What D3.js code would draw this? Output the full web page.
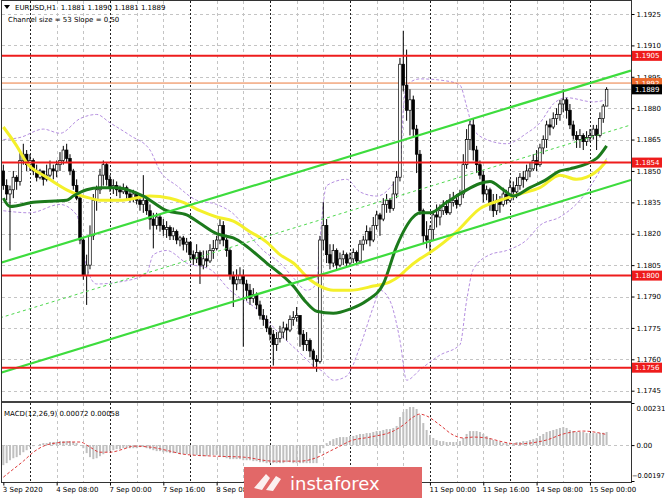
<!DOCTYPE html>
<html><head><meta charset="utf-8">
<script src="https://cdn.jsdelivr.net/npm/d3@7"></script>
<style>
body{margin:0;background:#fff}
svg{display:block}
text{font-family:"DejaVu Sans",Verdana,sans-serif}
</style></head>
<body><svg id="c" width="665" height="499"></svg>
<script>
// ---------- DATA ----------
const symbolTitle = "EURUSD,H1  1.1881 1.1890 1.1881 1.1889";
const channelTitle = "Channel size = 53 Slope = 0,50";
const macdTitle = "MACD(12,26,9) 0.00072 0.00058";
const firstOpen = 1.1850;
const closes = [
1.1843,1.1839,1.1841,1.1847,1.1845,1.1855,1.1858,1.1853,1.1855,1.1850,
1.1847,1.1850,1.1846,1.1848,1.1851,1.1850,1.1853,1.1855,1.1860,1.1856,
1.1850,1.1843,1.1837,1.1817,1.1800,1.1805,1.1819,1.1836,1.1841,1.1848,
1.1853,1.1846,1.1842,1.1843,1.1841,1.1840,1.1842,1.1839,1.1837,1.1839,
1.1836,1.1834,1.1836,1.1831,1.1827,1.1824,1.1828,1.1824,1.1822,1.1823,
1.1819,1.1821,1.1817,1.1818,1.1815,1.1816,1.1810,1.1808,1.1811,1.1805,
1.1808,1.1807,1.1812,1.1813,1.1817,1.1824,1.1817,1.1812,1.1800,1.1796,
1.1798,1.1800,1.1796,1.1793,1.1789,1.1791,1.1786,1.1781,1.1779,1.1775,
1.1772,1.1767,1.1770,1.1773,1.1775,1.1774,1.1779,1.1780,1.1781,1.1772,
1.1767,1.1769,1.1764,1.1760,1.1759,1.1817,1.1824,1.1810,1.1806,1.1812,
1.1805,1.1808,1.1810,1.1806,1.1808,1.1811,1.1807,1.1815,1.1817,1.1821,
1.1817,1.1824,1.1829,1.1827,1.1834,1.1836,1.1832,1.1839,1.1847,1.1901,
1.1891,1.1879,1.1884,1.1870,1.1858,1.1831,1.1819,1.1817,1.1822,1.1829,
1.1828,1.1831,1.1833,1.1830,1.1835,1.1836,1.1834,1.1839,1.1853,1.1865,
1.1872,1.1860,1.1853,1.1848,1.1839,1.1841,1.1834,1.1831,1.1836,1.1834,
1.1839,1.1836,1.1842,1.1840,1.1843,1.1847,1.1846,1.1850,1.1851,1.1855,
1.1853,1.1861,1.1865,1.1872,1.1871,1.1875,1.1877,1.1882,1.1884,1.1879,
1.1872,1.1867,1.1865,1.1867,1.1864,1.1866,1.1867,1.1870,1.1867,1.1875,
1.1881,1.1889];
const highs = [
1.1853,1.1846,1.1843,1.1850,1.1848,1.1859,1.1863,1.1860,1.1858,1.1856,
1.1853,1.1851,1.1850,1.1853,1.1855,1.1853,1.1855,1.1859,1.1862,1.1863,
1.1858,1.1851,1.1846,1.1839,1.1818,1.1810,1.1824,1.1839,1.1843,1.1851,
1.1855,1.1854,1.1848,1.1846,1.1845,1.1843,1.1844,1.1843,1.1841,1.1841,
1.1840,1.1839,1.1848,1.1837,1.1834,1.1830,1.1830,1.1829,1.1827,1.1826,
1.1824,1.1823,1.1822,1.1819,1.1819,1.1818,1.1816,1.1812,1.1815,1.1812,
1.1812,1.1812,1.1815,1.1817,1.1819,1.1828,1.1826,1.1818,1.1813,1.1802,
1.1803,1.1804,1.1803,1.1798,1.1796,1.1794,1.1792,1.1788,1.1784,1.1781,
1.1776,1.1774,1.1773,1.1776,1.1778,1.1777,1.1781,1.1783,1.1785,1.1781,
1.1774,1.1773,1.1770,1.1765,1.1762,1.1819,1.1835,1.1827,1.1815,1.1815,
1.1813,1.1811,1.1812,1.1811,1.1811,1.1813,1.1812,1.1817,1.1819,1.1824,
1.1823,1.1828,1.1831,1.1830,1.1837,1.1839,1.1837,1.1845,1.1850,1.1904,
1.1917,1.1908,1.1889,1.1886,1.1872,1.1860,1.1832,1.1826,1.1824,1.1831,
1.1834,1.1834,1.1836,1.1836,1.1839,1.1840,1.1839,1.1841,1.1858,1.1870,
1.1874,1.1875,1.1862,1.1855,1.1850,1.1843,1.1842,1.1839,1.1839,1.1838,
1.1842,1.1841,1.1846,1.1845,1.1847,1.1849,1.1850,1.1853,1.1854,1.1858,
1.1860,1.1863,1.1867,1.1874,1.1875,1.1878,1.1880,1.1884,1.1889,1.1885,
1.1882,1.1874,1.1869,1.1870,1.1868,1.1869,1.1870,1.1872,1.1872,1.1878,
1.1882,1.1890];
const lows = [
1.1841,1.1836,1.1812,1.1837,1.1841,1.1843,1.1853,1.1850,1.1850,1.1848,
1.1845,1.1846,1.1843,1.1845,1.1847,1.1846,1.1847,1.1850,1.1853,1.1854,
1.1848,1.1841,1.1836,1.1815,1.1798,1.1786,1.1803,1.1817,1.1831,1.1839,
1.1843,1.1843,1.1840,1.1839,1.1838,1.1837,1.1839,1.1836,1.1835,1.1835,
1.1834,1.1831,1.1830,1.1829,1.1822,1.1813,1.1822,1.1821,1.1819,1.1818,
1.1817,1.1817,1.1815,1.1814,1.1812,1.1811,1.1807,1.1805,1.1806,1.1796,
1.1803,1.1804,1.1806,1.1808,1.1812,1.1815,1.1814,1.1809,1.1798,1.1785,
1.1793,1.1796,1.1766,1.1788,1.1786,1.1787,1.1784,1.1779,1.1776,1.1773,
1.1769,1.1757,1.1764,1.1768,1.1770,1.1769,1.1773,1.1776,1.1778,1.1766,
1.1764,1.1764,1.1761,1.1756,1.1754,1.1758,1.1812,1.1806,1.1803,1.1804,
1.1803,1.1804,1.1805,1.1804,1.1805,1.1806,1.1805,1.1806,1.1812,1.1815,
1.1814,1.1816,1.1822,1.1819,1.1826,1.1830,1.1830,1.1831,1.1837,1.1845,
1.1888,1.1874,1.1867,1.1866,1.1849,1.1829,1.1815,1.1813,1.1810,1.1817,
1.1823,1.1824,1.1829,1.1829,1.1829,1.1833,1.1832,1.1833,1.1837,1.1851,
1.1860,1.1855,1.1849,1.1846,1.1835,1.1836,1.1831,1.1828,1.1829,1.1830,
1.1833,1.1834,1.1835,1.1836,1.1837,1.1841,1.1842,1.1845,1.1847,1.1850,
1.1850,1.1852,1.1858,1.1861,1.1867,1.1870,1.1872,1.1874,1.1878,1.1875,
1.1870,1.1865,1.1861,1.1861,1.1860,1.1862,1.1864,1.1865,1.1860,1.1866,
1.1873,1.1881];
// moving averages: [bar, price]
const maYellow = [[0,1.1871],[4,1.1862],[7,1.1854],[13,1.1847],[19,1.1841],[26,1.1837],[29,1.1836],[35,1.1836],[44,1.1838],[50,1.1837],[54,1.1835],[59,1.1831],[64,1.1828],[69,1.1826],[74,1.1821],[79,1.1816],[83,1.1810],[87,1.1806],[92,1.1798],[95,1.1795],[99,1.1793],[104,1.1793],[111,1.1795],[116,1.1797],[119,1.1800],[121,1.1803],[125,1.1808],[128,1.1811],[136,1.1821],[143,1.1832],[149,1.1836],[155,1.1839],[161,1.1842],[167,1.1848],[172,1.1846],[175,1.1847],[180,1.1853],[181,1.1855]];
const maGreen = [[0,1.1837],[2,1.1833],[9,1.1835],[19,1.1836],[21,1.1838],[25,1.1841],[29,1.1842],[34,1.1842],[42,1.1838],[49,1.1831],[55,1.1829],[59,1.1825],[64,1.1820],[69,1.1818],[79,1.1806],[87,1.1795],[91,1.1787],[94,1.1783],[99,1.1782],[104,1.1784],[109,1.1788],[114,1.1796],[118,1.1814],[123,1.1828],[125,1.1830],[128,1.1830],[133,1.1835],[138,1.1840],[143,1.1844],[146,1.1845],[150,1.1841],[153,1.1838],[158,1.1842],[163,1.1846],[167,1.1850],[170,1.1851],[178,1.1856],[181,1.1862]];
const bandUpper = [[0,1.1865],[5,1.1866],[12,1.1870],[17,1.1868],[23,1.1875],[28,1.1877],[32,1.1873],[38,1.1867],[44,1.1860],[47,1.1850],[52,1.1843],[58,1.1836],[64,1.1834],[70,1.1828],[74,1.1819],[78,1.1812],[83,1.1806],[87,1.1799],[91,1.1793],[94,1.1796],[95,1.1817],[97,1.1843],[103,1.1846],[107,1.1840],[112,1.1838],[116,1.1842],[119,1.1850],[120,1.1879],[121,1.1891],[125,1.1894],[133,1.1893],[137,1.1891],[139,1.1881],[141,1.1870],[145,1.1865],[151,1.1863],[157,1.1868],[161,1.1873],[165,1.1882],[169,1.1885],[177,1.1883],[181,1.1884]];
const bandLower = [[0,1.1831],[8,1.1830],[17,1.1834],[22,1.1829],[25,1.1804],[28,1.1796],[35,1.1797],[43,1.1801],[45,1.1810],[49,1.1812],[55,1.1806],[62,1.1803],[68,1.1793],[76,1.1784],[83,1.1772],[89,1.1763],[93,1.1757],[96,1.1754],[99,1.1750],[103,1.1752],[107,1.1766],[111,1.1785],[113,1.1793],[116,1.1788],[119,1.1769],[121,1.1750],[125,1.1755],[131,1.1762],[137,1.1767],[139,1.1788],[141,1.1803],[146,1.1810],[151,1.1812],[157,1.1817],[161,1.1824],[167,1.1828],[173,1.1836],[180,1.1853],[181,1.1856]];
// regression channel endpoints [bar, price]
const channelUpper = [[-1,1.1806],[188.3,1.1898]];
const channelMiddle = [[-1,1.17798],[188.3,1.18720]];
const channelLower = [[-1,1.17535],[188.3,1.18457]];
const levels = [1.1905,1.1854,1.1800,1.1756];
const askLine = 1.1892, bidLine = 1.1889;
const priceTicks = [1.1925,1.1910,1.1895,1.1880,1.1865,1.1850,1.1835,1.1820,1.1805,1.1790,1.1775,1.1760,1.1745];
// labels hidden under the watermark (9 Sep 00:00, 9 Sep 16:00, 10 Sep 08:00) are not shown
const timeLabelBars = [0,16,32,48,64,128,144,160,176];
const timeLabels = ["3 Sep 2020","4 Sep 08:00","7 Sep 00:00","7 Sep 16:00","8 Sep 08:00","11 Sep 00:00","11 Sep 16:00","14 Sep 08:00","15 Sep 00:00"];
const macdHist = [
-0.00110,-0.00099,-0.00083,-0.00072,-0.00066,-0.00055,-0.00039,-0.00028,-0.00011,-0.00006,
0.00000,0.00006,0.00011,0.00011,0.00017,0.00017,0.00017,0.00022,0.00022,0.00022,
0.00022,0.00017,0.00011,0.00000,-0.00017,-0.00044,-0.00066,-0.00077,-0.00072,-0.00061,
-0.00050,-0.00039,-0.00033,-0.00028,-0.00022,-0.00022,-0.00017,-0.00017,-0.00017,-0.00017,
-0.00017,-0.00011,-0.00011,-0.00017,-0.00022,-0.00028,-0.00033,-0.00033,-0.00039,-0.00039,
-0.00044,-0.00044,-0.00044,-0.00050,-0.00050,-0.00050,-0.00050,-0.00055,-0.00055,-0.00061,
-0.00061,-0.00061,-0.00055,-0.00055,-0.00055,-0.00061,-0.00066,-0.00072,-0.00077,-0.00077,
-0.00077,-0.00077,-0.00083,-0.00083,-0.00083,-0.00088,-0.00088,-0.00094,-0.00094,-0.00099,
-0.00099,-0.00099,-0.00099,-0.00099,-0.00099,-0.00094,-0.00094,-0.00099,-0.00099,-0.00099,
-0.00099,-0.00099,-0.00099,-0.00099,-0.00099,-0.00044,-0.00017,0.00011,0.00022,0.00033,
0.00039,0.00044,0.00044,0.00044,0.00050,0.00050,0.00055,0.00061,0.00061,0.00066,
0.00066,0.00072,0.00077,0.00077,0.00083,0.00088,0.00088,0.00094,0.00105,0.00154,
0.00182,0.00198,0.00209,0.00209,0.00198,0.00165,0.00121,0.00083,0.00055,0.00039,
0.00028,0.00022,0.00022,0.00017,0.00017,0.00017,0.00017,0.00022,0.00039,0.00061,
0.00077,0.00077,0.00077,0.00072,0.00061,0.00050,0.00039,0.00028,0.00022,0.00017,
0.00011,0.00011,0.00011,0.00011,0.00017,0.00017,0.00022,0.00022,0.00028,0.00033,
0.00039,0.00050,0.00061,0.00072,0.00077,0.00083,0.00088,0.00094,0.00099,0.00094,
0.00083,0.00077,0.00072,0.00072,0.00072,0.00066,0.00066,0.00066,0.00066,0.00066,
0.00068,0.00072];
const macdSignal = [[0,-0.00176],[3,-0.00132],[6,-0.00088],[9,-0.00039],[14,0.00006],[20,0.00017],[23,0.00017],[26,-0.00011],[29,-0.00039],[32,-0.00039],[36,-0.00022],[39,-0.00006],[44,-0.00011],[50,-0.00033],[54,-0.00050],[64,-0.00061],[72,-0.00066],[81,-0.00088],[89,-0.00088],[95,-0.00061],[98,-0.00033],[101,-0.00006],[104,0.00022],[110,0.00044],[117,0.00077],[120,0.00110],[123,0.00154],[125,0.00170],[127,0.00160],[131,0.00110],[135,0.00055],[138,0.00039],[141,0.00044],[145,0.00039],[150,0.00017],[154,0.00006],[158,0.00011],[163,0.00028],[168,0.00061],[174,0.00077],[181,0.00058]];
const macdTicks = [0.00231,0.00,-0.00197];

// ---------- LAYOUT ----------
const svg = d3.select("#c");
const L = 2, R = 631, T = 1, B = 401, MT = 403, MB = 482;
const x = d3.scaleLinear().domain([0,181]).range([3.33,606.6]);
const y = d3.scaleLinear().domain([1.1745,1.1925]).range([390.7,14]);
const ym = d3.scaleLinear().domain([-0.00197,0.00231]).range([481,403]);
const FONT = 7;

const defs = svg.append("defs");
defs.append("clipPath").attr("id","cm").append("rect").attr("x",L).attr("y",T).attr("width",R-L).attr("height",B-T);
defs.append("clipPath").attr("id","cd").append("rect").attr("x",L).attr("y",MT).attr("width",R-L).attr("height",MB-MT);

svg.append("rect").attr("width",665).attr("height",499).attr("fill","#fff");

// grid
const grid = svg.append("g");
grid.selectAll("line.h").data(priceTicks).join("line")
  .attr("x1",L).attr("x2",R).attr("y1",d=>Math.round(y(d))+0.5).attr("y2",d=>Math.round(y(d))+0.5)
  .attr("stroke","#c4c4c4").attr("stroke-dasharray","3,3");
const vBars = d3.range(8,182,8);
[[T,B],[MT,MB]].forEach(([a,b])=>{
  grid.append("g").selectAll("line").data(vBars).join("line")
    .attr("x1",d=>Math.round(x(d))+0.5).attr("x2",d=>Math.round(x(d))+0.5)
    .attr("y1",a).attr("y2",b)
    .attr("stroke",d=>((d-8)%24===0)?"#222":"#c4c4c4")
    .attr("stroke-dasharray",d=>((d-8)%24===0)?"2,2":"3,3");
});
grid.append("line").attr("x1",L).attr("x2",R).attr("y1",Math.round(ym(0))+0.5).attr("y2",Math.round(ym(0))+0.5)
  .attr("stroke","#c4c4c4").attr("stroke-dasharray","3,3");

const main = svg.append("g").attr("clip-path","url(#cm)");
const lineGen = d3.line().x(d=>x(d[0])).y(d=>y(d[1]));
const smooth = d3.line().x(d=>x(d[0])).y(d=>y(d[1])).curve(d3.curveMonotoneX);

// bollinger bands
[bandUpper,bandLower].forEach(b=>{
  main.append("path").datum(b).attr("d",smooth).attr("fill","none")
    .attr("stroke","#b58fe0").attr("stroke-width",1).attr("stroke-dasharray","3,2");
});

// bid / ask lines
main.append("line").attr("x1",L).attr("x2",R).attr("y1",y(askLine)).attr("y2",y(askLine)).attr("stroke","#ec7a3c").attr("stroke-width",1);
main.append("line").attr("x1",L).attr("x2",R).attr("y1",y(bidLine)).attr("y2",y(bidLine)).attr("stroke","#b8b8b8").attr("stroke-width",1);

// candles
const bars = closes.map((c,i)=>({i,o: i===0?firstOpen:closes[i-1],c,h:highs[i],l:lows[i]}));
const cg = main.append("g");
cg.selectAll("line").data(bars).join("line")
  .attr("x1",d=>x(d.i)).attr("x2",d=>x(d.i))
  .attr("y1",d=>y(d.h)).attr("y2",d=>y(d.l))
  .attr("stroke","#000").attr("stroke-width",1);
cg.selectAll("rect").data(bars).join("rect")
  .attr("x",d=>x(d.i)-1.3).attr("width",2.6)
  .attr("y",d=>y(Math.max(d.o,d.c)))
  .attr("height",d=>Math.max(0.8,Math.abs(y(d.o)-y(d.c))))
  .attr("fill",d=>d.c>=d.o?"#fff":"#000")
  .attr("stroke","#000").attr("stroke-width",0.7);

// moving averages
main.append("path").datum(maYellow).attr("d",smooth).attr("fill","none").attr("stroke","#f4f02a").attr("stroke-width",3);
main.append("path").datum(maGreen).attr("d",smooth).attr("fill","none").attr("stroke","#1c7a1c").attr("stroke-width",3);

// channel
main.append("path").datum(channelUpper).attr("d",lineGen).attr("stroke","#3ddc3d").attr("stroke-width",2.2).attr("fill","none");
main.append("path").datum(channelLower).attr("d",lineGen).attr("stroke","#3ddc3d").attr("stroke-width",2.2).attr("fill","none");
main.append("path").datum(channelMiddle).attr("d",lineGen).attr("stroke","#4fd84f").attr("stroke-width",1).attr("stroke-dasharray","3,3").attr("fill","none");

// levels
main.selectAll("line.lv").data(levels).join("line")
  .attr("x1",L).attr("x2",R).attr("y1",d=>y(d)).attr("y2",d=>y(d))
  .attr("stroke","#ee1c1c").attr("stroke-width",2);

// MACD
const md = svg.append("g").attr("clip-path","url(#cd)");
md.selectAll("rect").data(macdHist).join("rect")
  .attr("x",(d,i)=>x(i)-1).attr("width",2)
  .attr("y",d=>ym(Math.max(0,d))).attr("height",d=>Math.abs(ym(d)-ym(0)))
  .attr("fill","#c0c0c0");
md.append("path").datum(macdSignal)
  .attr("d",d3.line().x(d=>x(d[0])).y(d=>ym(d[1])).curve(d3.curveMonotoneX))
  .attr("fill","none").attr("stroke","#dd3b3b").attr("stroke-width",1).attr("stroke-dasharray","3,2");

// frames
svg.append("rect").attr("x",L-0.5).attr("y",T-0.5).attr("width",R-L+1).attr("height",B-T+1).attr("fill","none").attr("stroke","#333");
svg.append("rect").attr("x",L-0.5).attr("y",MT-0.5).attr("width",R-L+1).attr("height",MB-MT+1).attr("fill","none").attr("stroke","#333");
svg.append("line").attr("x1",L).attr("x2",R+1).attr("y1",B+1).attr("y2",B+1).attr("stroke","#555");

// price axis
svg.append("g").attr("transform",`translate(${R+0.5},0)`)
  .call(d3.axisRight(y).tickValues(priceTicks).tickSize(3).tickFormat(d3.format(".4f")))
  .call(g=>g.select(".domain").remove())
  .call(g=>g.selectAll("line").attr("stroke","#000"))
  .call(g=>g.selectAll("text").attr("font-size",FONT).attr("fill","#000").attr("font-family","DejaVu Sans").attr("x",5));

// macd axis
svg.append("g").attr("transform",`translate(${R+0.5},0)`)
  .call(d3.axisRight(ym).tickValues(macdTicks).tickSize(3).tickFormat(d=>d===0?"0.00":d3.format(".5f")(d)))
  .call(g=>g.select(".domain").remove())
  .call(g=>g.selectAll("line").attr("stroke","#000"))
  .call(g=>g.selectAll("text").attr("font-size",d=>d<0?6.6:FONT).attr("fill","#000").attr("font-family","DejaVu Sans")
      .attr("x",d=>d<0?0.5:5)
      .attr("dy",d=>d>0?"1.1em":(d<0?"-0.5em":"0.32em")));

// time axis
svg.append("g").attr("transform",`translate(0,${MB+0.5})`)
  .call(d3.axisBottom(x).tickValues(timeLabelBars).tickSize(3).tickFormat((d,i)=>timeLabels[i]))
  .call(g=>g.select(".domain").remove())
  .call(g=>g.selectAll("line").attr("stroke","#000"))
  .call(g=>g.selectAll("text").attr("font-size",FONT).attr("fill","#000").attr("font-family","DejaVu Sans")
      .attr("text-anchor","start").attr("x",-1).attr("y",5));

// price tags
const tags = [
  {v:levels[0],c:"#ee1c1c"},{v:levels[1],c:"#ee1c1c"},{v:levels[2],c:"#ee1c1c"},{v:levels[3],c:"#ee1c1c"},
  {v:askLine,c:"#ec6a2c"},{v:bidLine,c:"#000"}];
const tg = svg.append("g").selectAll("g").data(tags).join("g").attr("transform",d=>`translate(${R+1},${y(d.v)})`);
tg.append("rect").attr("x",0).attr("y",-5).attr("width",30).attr("height",10).attr("fill",d=>d.c);
tg.append("text").attr("x",3).attr("y",2.6).attr("font-size",FONT).attr("fill","#fff").text(d=>d3.format(".4f")(d.v));

// titles
svg.append("path").attr("d","M4,5 L10,5 L7,9 Z").attr("fill","#000");
svg.append("text").attr("x",15).attr("y",10).attr("font-size",FONT).attr("fill","#000").attr("xml:space","preserve").text(symbolTitle);
svg.append("text").attr("x",8).attr("y",22).attr("font-size",FONT).attr("fill","#000").text(channelTitle);
svg.append("text").attr("x",4).attr("y",416).attr("font-size",FONT).attr("fill","#000").text(macdTitle);

// watermark
const wm = svg.append("g");
wm.append("rect").attr("x",244).attr("y",467).attr("width",178).attr("height",31).attr("fill","#e26868");
wm.append("path").attr("d","M254,488 L266,474 L270,478 L262,490 Z M266,490 L276,476 L281,479 L273,491 Z").attr("fill","#fff").attr("opacity",0.9);
wm.append("text").attr("x",290).attr("y",490).attr("font-size",18).attr("font-family","Open Sans, sans-serif").attr("fill","#fff").text("instaforex");
</script></body></html>
